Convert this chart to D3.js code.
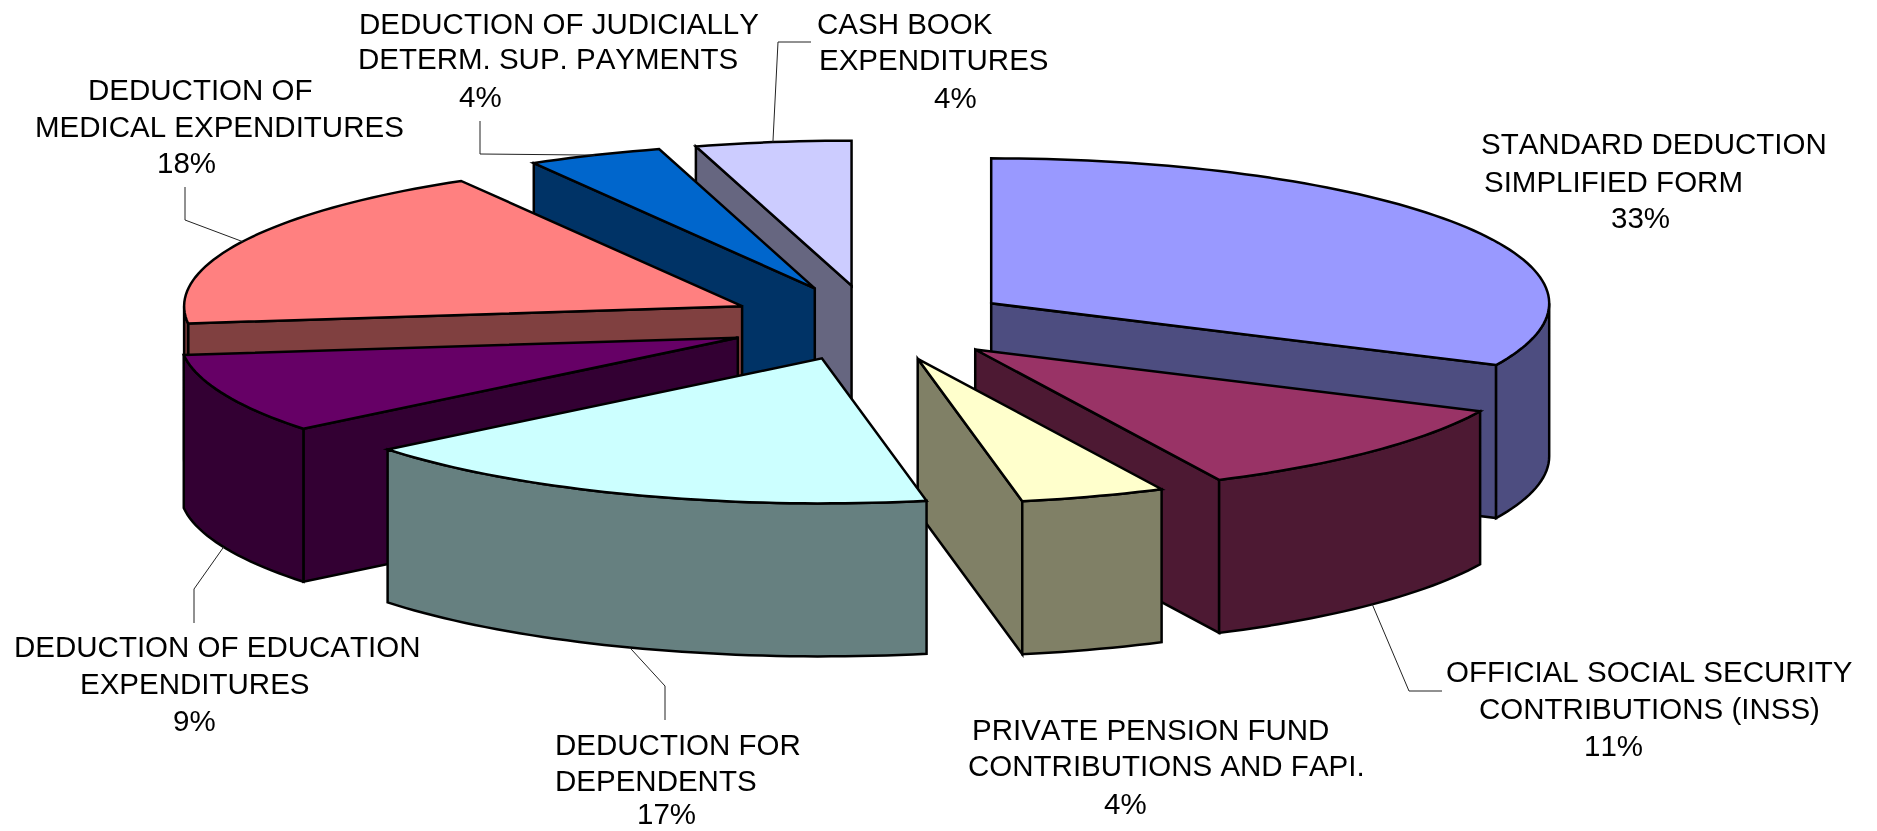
<!DOCTYPE html>
<head>
<meta charset="utf-8">
<style>
  body { margin:0;position:fixed;top:0;right:0;bottom:0;left:0;background:#fff; }
  svg { display:block; }
  text { font-family:"Liberation Sans",Arial,sans-serif;font-size:29.5px;font-kerning:none;fill:#000; }
  .leader { fill:none;stroke:#222;stroke-width:1px; }
  .face { stroke:#000;stroke-width:2.5px;stroke-linejoin:miter; }
</style>
<script src="https://d3js.org/d3.v7.min.js"></script>
</head>

<body>
<script>

var width = 1877;
var height = 831;

// names and printed percentages, as in the picture
var categories = ["STANDARD DEDUCTION SIMPLIFIED FORM", "OFFICIAL SOCIAL SECURITY CONTRIBUTIONS (INSS)",
    "PRIVATE PENSION FUND CONTRIBUTIONS AND FAPI.", "DEDUCTION FOR DEPENDENTS", "DEDUCTION OF EDUCATION EXPENDITURES",
    "DEDUCTION OF MEDICAL EXPENDITURES", "DEDUCTION OF JUDICIALLY DETERM. SUP. PAYMENTS", "CASH BOOK EXPENDITURES"];
var printed = ["33%", "11%", "4%", "17%", "9%", "18%", "4%", "4%"];
var shares = [32.0, 10.8, 4.2, 17.2, 8.9, 18.5, 3.9, 4.5];
// how far each slice is pulled out of the pie
var explode = [0.253, 0.26, 0.26, 0.26, 0.261, 0.26, 0.26, 0.26];

var topColors = ["#9999FF", "#993366", "#FFFFCC", "#CCFFFF", "#660066", "#FF8080", "#0066CC", "#CCCCFF"];
var sideColors = ["#4D4D80", "#4D1933", "#808066", "#668080", "#330033", "#804040", "#003366", "#666680"];

// back to front
var drawOrder = [7, 0, 1, 2, 6, 5, 4, 3];

var labelLines = [
    ["STANDARD DEDUCTION", "SIMPLIFIED FORM", printed[0]],
    ["OFFICIAL SOCIAL SECURITY", "CONTRIBUTIONS (INSS)", printed[1]],
    ["PRIVATE PENSION FUND", "CONTRIBUTIONS AND FAPI.", printed[2]],
    ["DEDUCTION FOR", "DEPENDENTS", printed[3]],
    ["DEDUCTION OF EDUCATION", "EXPENDITURES", printed[4]],
    ["DEDUCTION OF", "MEDICAL EXPENDITURES", printed[5]],
    ["DEDUCTION OF JUDICIALLY", "DETERM. SUP. PAYMENTS", printed[6]],
    ["CASH BOOK", "EXPENDITURES", printed[7]]
];
// [x, baseline] of every line
var labelPos = [
    [[1481,154], [1484,192], [1611,228]],
    [[1446,682], [1479,719], [1584,756]],
    [[972,740], [968,776], [1104,814]],
    [[555,755], [555,791], [637,824]],
    [[14,657], [80,694], [173,731]],
    [[88,100], [35,137], [157,173]],
    [[359,34], [358,69], [459,107]],
    [[817,34], [819,70], [934,108]]
];
// label end and elbow of the leader lines, null = no leader
var leaders = [
    null,
    [[1442,691], [1409,691]],
    null,
    [[665,720], [665,686]],
    [[194,623], [194,589]],
    [[185,187], [185,220]],
    [[480,121], [480,154]],
    [[811,42], [778,42]]
];

var cx = 872, cy = 323, rx = 558, ry = 145;
var depth = 153;

var x = d3.scaleLinear().domain([-1, 1]).range([cx - rx, cx + rx]);
var y = d3.scaleLinear().domain([-1, 1]).range([cy - ry, cy + ry]);

var svg = d3.select("body").append("svg")
    .attr("width", width)
    .attr("height", height);

var arcs = d3.pie().sort(null)(shares);
var line = d3.line();

function rim(d, a, r) {
    var m = (d.startAngle + d.endAngle) / 2;
    var e = explode[d.index];
    return [x(e * Math.sin(m) + r * Math.sin(a)), y(-e * Math.cos(m) - r * Math.cos(a))];
}

function rimPoints(d, a0, a1) {
    var n = Math.max(2, Math.ceil((a1 - a0) * 40));
    return d3.range(n + 1).map(function(i) { return rim(d, a0 + (a1 - a0) * i / n, 1); });
}

function down(p) {
    return [p[0], p[1] + depth];
}

function addFace(pts, color) {
    svg.append("path")
        .attr("class", "face")
        .attr("fill", color)
        .attr("d", line(pts) + "Z");
}

drawOrder.forEach(function(i) {
    var d = arcs[i];
    var c = rim(d, 0, 0);

    // radial wall facing the viewer
    if (d.endAngle < Math.PI) {
        var e = rim(d, d.endAngle, 1);
        addFace([c, e, down(e), down(c)], sideColors[i]);
    }
    if (d.startAngle > Math.PI) {
        var s = rim(d, d.startAngle, 1);
        addFace([c, s, down(s), down(c)], sideColors[i]);
    }

    // outer wall, only the front half of the rim
    var a0 = Math.max(d.startAngle, Math.PI / 2);
    var a1 = Math.min(d.endAngle, Math.PI * 1.5);
    if (a1 > a0) {
        var r = rimPoints(d, a0, a1);
        addFace(r.concat(r.map(down).reverse()), sideColors[i]);
    }

    addFace([c].concat(rimPoints(d, d.startAngle, d.endAngle)), topColors[i]);
});

leaders.forEach(function(l, i) {
    if (!l) return;
    var d = arcs[i];
    var m = (d.startAngle + d.endAngle) / 2;
    var p = rim(d, m, 1);
    if (Math.cos(m) < 0) p = down(p);
    svg.append("path")
        .attr("class", "leader")
        .attr("d", line(l.concat([p])));
});

labelLines.forEach(function(lines, i) {
    lines.forEach(function(t, j) {
        svg.append("text")
            .attr("x", labelPos[i][j][0])
            .attr("y", labelPos[i][j][1])
            .text(t);
    });
});

</script>
</body>
